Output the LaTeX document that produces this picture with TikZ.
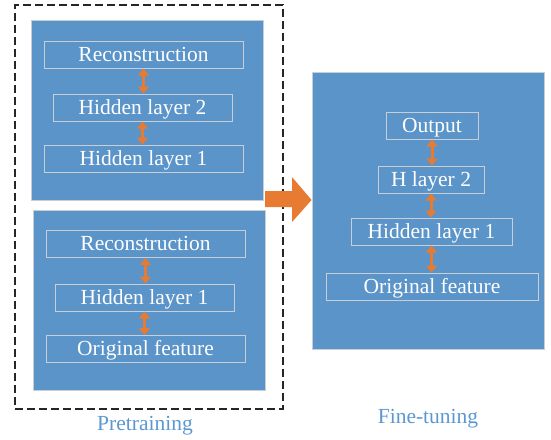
\documentclass[tikz,border=0pt]{standalone}
\usepackage{fontspec}
\setmainfont{Liberation Serif}
\usepackage{xcolor}
\usepackage{tikz}
\usetikzlibrary{arrows.meta}
\definecolor{panelblue}{RGB}{91,148,201}
\definecolor{linkorange}{RGB}{232,123,50}
\definecolor{edgegrey}{RGB}{200,206,214}
\definecolor{captionblue}{RGB}{91,152,210}

\begin{document}
\begin{tikzpicture}[x=1pt, y=-1pt,
    panel/.style={draw=edgegrey, line width=0.8pt, fill=panelblue, minimum width=232pt, minimum height=180pt, inner sep=0pt},
    layer/.style={draw=edgegrey, line width=1pt, minimum height=27pt, inner sep=0pt, text height=16pt, text depth=3pt, text=white, font=\fontsize{21.5}{24}\selectfont},
    link/.style={linkorange, line width=3pt, {Triangle[width=11pt,length=7pt]}-{Triangle[width=11pt,length=7pt]}},
    caption/.style={text=captionblue, font=\fontsize{21.5}{24}\selectfont}
]
\useasboundingbox (0,0) rectangle (551,439);

% pretraining, two stacked autoencoders
\node[draw=black!85, dash pattern=on 8pt off 4pt, line width=1.1pt, minimum width=268pt, minimum height=404pt] (pre) at (149,207) {};

\node[panel] (ae2) at (147,110) {};
\node[layer, minimum width=199pt] (rec2) at (143.5,54.5) {Reconstruction};
\node[layer, minimum width=179pt] (hid2) at (142.5,107.5) {Hidden layer 2};
\node[layer, minimum width=199pt] (hid2in) at (143.5,158.5) {Hidden layer 1};

\node[panel] (ae1) at (149,300) {};
\node[layer, minimum width=199pt] (rec1) at (145.5,244) {Reconstruction};
\node[layer, minimum width=179pt] (hid1) at (144.5,297.5) {Hidden layer 1};
\node[layer, minimum width=199pt] (feat1) at (145.5,349) {Original feature};

\draw[link] (rec2.south) -- (rec2.south |- hid2.north);
\draw[link] (hid2.south) -- (hid2.south |- hid2in.north);
\draw[link] (rec1.south) -- (rec1.south |- hid1.north);
\draw[link] (hid1.south) -- (hid1.south |- feat1.north);

% fine-tuning network
\node[panel, minimum height=277pt] (tune) at (428,210.5) {};
\node[layer, minimum width=92pt] (out) at (432,125.5) {Output};
\node[layer, minimum width=106pt] (hl2) at (431,179.5) {H layer 2};
\node[layer, minimum width=161pt] (hl1) at (431.5,231.5) {Hidden layer 1};
\node[layer, minimum width=212pt] (feat) at (432,286.5) {Original feature};

\draw[link] (out.south) -- (out.south |- hl2.north);
\draw[link] (hl2.south) -- (hl2.south |- hl1.north);
\draw[link] (hl1.south) -- (hl1.south |- feat.north);

% block arrow
\fill[linkorange] (265,191) -- (292,191) -- (292,177) -- (tune.west |- 0,200) -- (292,222) -- (292,207) -- (265,207) -- cycle;

\node[caption] (prelabel) at (145,426) {Pretraining};
\node[caption] (tunelabel) at (428,419) {Fine-tuning};

\end{tikzpicture}
\end{document}
